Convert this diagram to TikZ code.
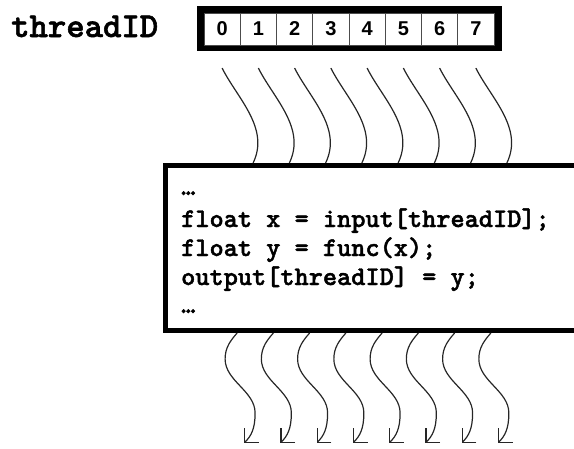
\documentclass[tikz,border=0pt]{standalone}
\usepackage{fontspec}
\setsansfont{Liberation Sans}
\newfontfamily\codefont{lmmonolt10-bold.otf}[FakeBold=1.6]
\usetikzlibrary{arrows.meta,positioning}

\tikzset{
  cell/.style={draw=black!70, fill=white, line width=0.9pt, minimum width=36.25pt,
    minimum height=32pt, inner sep=0pt, font=\sffamily\bfseries\fontsize{20}{20}\selectfont},
  codeline/.style={anchor=base west, inner sep=0pt, font=\codefont\fontsize{27}{29}\selectfont},
  thread/.style={line width=1.2pt, black!85},
}

\begin{document}
\begin{tikzpicture}[x=1pt,y=-1pt]
\useasboundingbox (0,0) rectangle (574,448);
\clip (0,0) rectangle (574,448);
% index array
\node[anchor=base west, inner sep=0pt, font=\codefont\fontsize{35}{35}\selectfont] (label) at (11,37) {threadID};
\fill (197,6) rectangle (502,51);
\foreach \i in {0,...,7}
  \node[cell] (c\i) at ({222.1+36.25*\i},29) {\i};
% kernel
\node[draw, line width=5pt, anchor=north west, minimum width=450pt, minimum height=165pt] (code) at (163,163) {};
\node[codeline] (l1) at (181,195) {…};
\node[codeline] (l2) at (181,227) {float x = input[threadID];};
\node[codeline] (l3) at (181,256) {float y = func(x);};
\node[codeline] (l4) at (181,285) {output[threadID] = y;};
\node[codeline] (l5) at (181,313) {…};
% threads in and out
\foreach \i in {0,...,7} {
  \path (c\i.south) ++(0,22.6) coordinate (s\i);
  \path (s\i |- code.north) ++(31,0) coordinate (e\i);
  \path (c\i.center |- code.south) ++(15,0) coordinate (o\i);
  \path (o\i) ++(7,110) coordinate (t\i);
  \draw[thread] (s\i) .. controls +(15,30) and +(17,-35) .. (e\i);
  \draw[thread, -{Straight Barb[length=10pt,width=20pt]}] (o\i)
    .. controls +(-6,7) and +(0,-12) .. ++(-12,26)
    .. controls +(0,22) and +(0,-22) .. ++(30,54)
    .. controls +(0,16) and +(7,-7) .. (t\i);
}
\end{tikzpicture}
\end{document}
